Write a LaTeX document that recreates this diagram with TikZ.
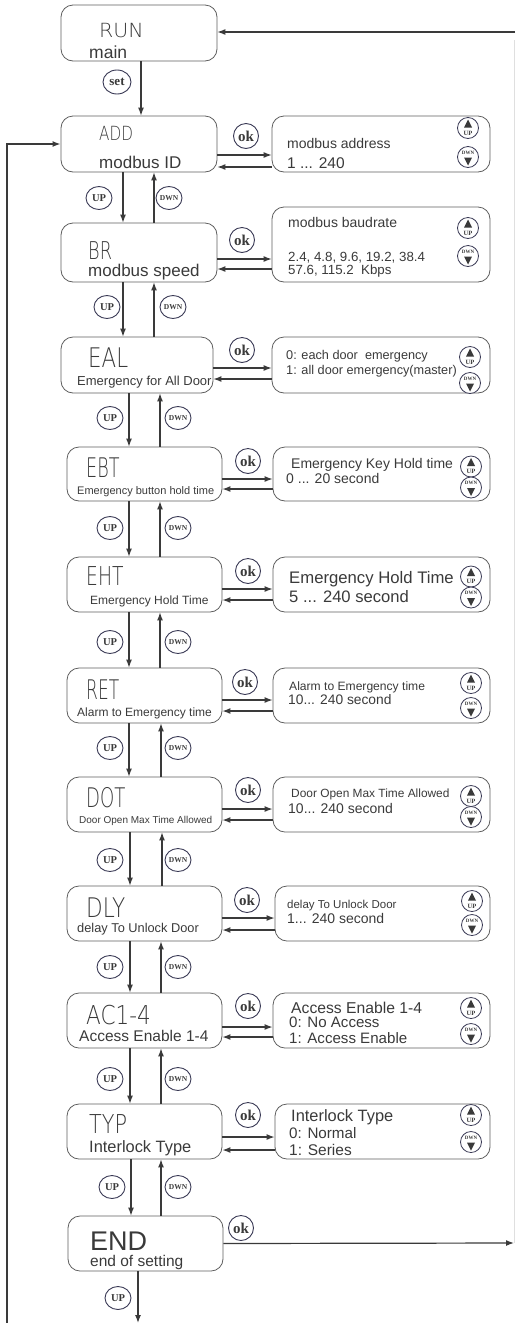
\documentclass[tikz,border=0pt]{standalone}
\usepackage{fontspec}
\setmainfont{Liberation Sans}
\newfontfamily\btnfont{Liberation Serif}
\newfontfamily\segfont{DejaVuSans-ExtraLight.ttf}
\usetikzlibrary{arrows.meta,shapes.geometric}
\definecolor{ink}{HTML}{3A3A3A}
\definecolor{frame}{HTML}{5E5E5E}
\definecolor{btn}{HTML}{3A3A55}
\newcommand\fs[1]{\fontsize{#1}{#1}\selectfont}
\newcommand\segtxt[3]{\scalebox{#1}[1]{\fontsize{#2}{#2}\segfont #3}}
\begin{document}
\begin{tikzpicture}[x=1pt,y=-1pt,
  box/.style={draw=frame, line width=0.8pt, rounded corners=12pt, inner sep=0pt},
  bx/.style 2 args={box, minimum width=#1pt, minimum height=#2pt},
  txt/.style={anchor=base west, inner sep=0pt, text=ink},
  arr/.style={draw=ink, line width=1.2pt, -{Latex[length=8pt,width=6pt]}},
  okb/.style={circle, draw=btn, line width=0.9pt, fill=white, minimum size=25pt, inner sep=0pt, font=\btnfont\bfseries\fs{15}, text=ink},
  setb/.style={ellipse, draw=btn, line width=0.9pt, fill=white, minimum width=28pt, minimum height=24pt, inner sep=0pt, font=\btnfont\bfseries\fs{13}, text=ink},
  upb/.style={ellipse, draw=btn, line width=0.9pt, fill=white, minimum width=26pt, minimum height=23pt, inner sep=0pt, font=\btnfont\bfseries\fs{10.5}, text=ink},
  dnb/.style={upb, font=\btnfont\bfseries\fs{7.5}},
  pup/.style={circle, draw=btn, line width=0.8pt, fill=white, minimum size=21pt, inner sep=0pt,
    path picture={\fill[ink] ([xshift=-4pt,yshift=0.5pt]path picture bounding box.center) -- ++(8pt,0pt) -- ++(-4pt,8pt) -- cycle;
      \node[font=\btnfont\bfseries\fs{6.5}, inner sep=0pt, text=ink] at ([yshift=-5pt]path picture bounding box.center) {UP};}},
  pdn/.style={circle, draw=btn, line width=0.8pt, fill=white, minimum size=21pt, inner sep=0pt,
    path picture={\fill[ink] ([xshift=-4pt,yshift=-0.5pt]path picture bounding box.center) -- ++(8pt,0pt) -- ++(-4pt,-8pt) -- cycle;
      \node[font=\btnfont\bfseries\fs{5}, inner sep=0pt, text=ink] at ([yshift=4.5pt]path picture bounding box.center) {DWN};}}
]
\useasboundingbox (0,0) rectangle (515,1323);

% ---------- left boxes ----------
\node[bx={156}{56}] (run) at (139,33) {};
\node[bx={156}{56}] (add) at (139,144) {};
\node[bx={156}{59}] (br)  at (139,252.5) {};
\node[bx={152}{56}] (eal) at (137,365) {};
\node[bx={155}{54}] (ebt) at (144.5,474) {};
\node[bx={155}{55}] (eht) at (144.5,584.5) {};
\node[bx={155}{55}] (ret) at (144.5,695.5) {};
\node[bx={155}{55}] (dot) at (144.5,804.5) {};
\node[bx={155}{55}] (dly) at (144.5,913.5) {};
\node[bx={155}{55}] (ac)  at (144.5,1020.5) {};
\node[bx={155}{55}] (typ) at (144.5,1131.5) {};
\node[bx={155}{55}] (end) at (145.5,1243.5) {};

% ---------- right panels ----------
\node[bx={218}{56}] (padd) at (381,144) {};
\node[bx={218}{75}] (pbr)  at (381,244.5) {};
\node[bx={218}{56}] (peal) at (381,365) {};
\node[bx={217}{54}] (pebt) at (381.5,474) {};
\node[bx={217}{55}] (peht) at (381.5,584.5) {};
\node[bx={217}{55}] (pret) at (381.5,695.5) {};
\node[bx={217}{55}] (pdot) at (381.5,804.5) {};
\node[bx={215}{55}] (pdly) at (382.5,913.5) {};
\node[bx={217}{55}] (pac)  at (381.5,1020.5) {};
\node[bx={215}{55}] (ptyp) at (382.5,1131.5) {};

% ---------- box texts ----------
\node[txt] (t-run) at (99,37) {\segtxt{1.05}{19.5}{RUN}};
\node[txt] (t-main) at (89,58) {\fs{17.5}main};
\node[txt] (t-add) at (99,140) {\segtxt{0.78}{19.5}{ADD}};
\node[txt] (t-mid) at (99,168) {\fs{17}modbus ID};
\node[txt] (t-br) at (88,259) {\segtxt{0.72}{24.5}{BR}};
\node[txt] (t-ms) at (88,276) {\fs{17}modbus speed};
\node[txt] (t-eal) at (88,367) {\segtxt{0.79}{27}{EAL}};
\node[txt] (t-efa) at (77,385) {\fs{13}Emergency for All Door};
\node[txt] (t-ebt) at (86,477) {\segtxt{0.65}{27}{EBT}};
\node[txt] (t-ebh) at (77,494) {\fs{11}Emergency button hold time};
\node[txt] (t-eht) at (86,585) {\segtxt{0.72}{26}{EHT}};
\node[txt] (t-eh) at (90,604) {\fs{12}Emergency Hold Time};
\node[txt] (t-ret) at (86,699) {\segtxt{0.63}{27}{RET}};
\node[txt] (t-ate) at (77,716) {\fs{12}Alarm to Emergency time};
\node[txt] (t-dot) at (86,807) {\segtxt{0.67}{27}{DOT}};
\node[txt] (t-dom) at (79,823) {\fs{10}Door Open Max Time Allowed};
\node[txt] (t-dly) at (86,917) {\segtxt{0.8}{27}{DLY}};
\node[txt] (t-dtu) at (77,932) {\fs{12.8}delay To Unlock Door};
\node[txt] (t-ac) at (86,1024) {\segtxt{0.83}{26}{AC1-4}};
\node[txt] (t-ae) at (79,1041) {\fs{15.5}Access Enable 1-4};
\node[txt] (t-typ) at (89,1133) {\segtxt{0.8}{26}{TYP}};
\node[txt] (t-it) at (89,1152) {\fs{16.4}Interlock Type};
\node[txt] (t-end) at (90,1250) {\fs{27}END};
\node[txt] (t-eos) at (90,1266) {\fs{15.5}end of setting};

% ---------- panel texts ----------
\node[txt] at (287,148) {\fs{14}modbus address};
\node[txt] at (287,168) {\fs{15.5}1 ... 240};
\node[txt] at (288,227) {\fs{14}modbus baudrate};
\node[txt] at (288,261) {\fs{13.3}2.4, 4.8, 9.6, 19.2, 38.4};
\node[txt] at (288,274) {\fs{13.3}57.6, 115.2\ \ Kbps};
\node[txt] at (286,359) {\fs{12.7}0: each door\ \ emergency};
\node[txt] at (286,374) {\fs{12.7}1: all door emergency(master)};
\node[txt] at (291,468) {\fs{14}Emergency Key Hold time};
\node[txt] at (286,483) {\fs{14}0 ... 20 second};
\node[txt] at (289,583) {\fs{16.7}Emergency Hold Time};
\node[txt] at (289,602) {\fs{16.6}5 ... 240 second};
\node[txt] at (289,690) {\fs{12.1}Alarm to Emergency time};
\node[txt] at (288,704) {\fs{13.8}10... 240 second};
\node[txt] at (291,797) {\fs{11.9}Door Open Max Time Allowed};
\node[txt] at (288,813) {\fs{14}10... 240 second};
\node[txt] at (287,908) {\fs{11.5}delay To Unlock Door};
\node[txt] at (287,923) {\fs{14}1... 240 second};
\node[txt] at (291,1013) {\fs{15.7}Access Enable 1-4};
\node[txt] at (289,1027) {\fs{15.1}0: No Access};
\node[txt] at (289,1043) {\fs{15.1}1: Access Enable};
\node[txt] at (291,1121) {\fs{16.4}Interlock Type};
\node[txt] at (289,1138) {\fs{15.2}0: Normal};
\node[txt] at (289,1155) {\fs{15.5}1: Series};

% ---------- panel up/down buttons ----------
\node[pup] (padd-u) at (468,128) {}; \node[pdn] (padd-d) at (468,157) {};
\node[pup] (pbr-u)  at (468,228) {}; \node[pdn] (pbr-d)  at (468,256) {};
\node[pup] (peal-u) at (470,357) {}; \node[pdn] (peal-d) at (470,383) {};
\node[pup] (pebt-u) at (471,466.5) {}; \node[pdn] (pebt-d) at (471,487.5) {};
\node[pup] (peht-u) at (471,576.5) {}; \node[pdn] (peht-d) at (471,597.5) {};
\node[pup] (pret-u) at (471,683) {}; \node[pdn] (pret-d) at (471,708) {};
\node[pup] (pdot-u) at (471,796) {}; \node[pdn] (pdot-d) at (471,817) {};
\node[pup] (pdly-u) at (472,901) {}; \node[pdn] (pdly-d) at (472,925) {};
\node[pup] (pac-u)  at (471,1008) {}; \node[pdn] (pac-d)  at (471,1034) {};
\node[pup] (ptyp-u) at (471,1115) {}; \node[pdn] (ptyp-d) at (471,1142) {};

% ---------- vertical connectors ----------
\draw[arr] (run.south -| 141,0) -- (add.north -| 141,0);
\node[setb] (set) at (117,82) {set};

\draw[arr] (add.south -| 123,0) -- (br.north -| 123,0);
\draw[arr] (br.north -| 154,0) -- (add.south -| 154,0);
\node[upb] at (99,198) {UP}; \node[dnb] at (169,198) {DWN};

\draw[arr] (br.south -| 123,0) -- (eal.north -| 123,0);
\draw[arr] (eal.north -| 154,0) -- (br.south -| 154,0);
\node[upb] at (107,307) {UP}; \node[dnb] at (173,307) {DWN};

\draw[arr] (eal.south -| 129,0) -- (ebt.north -| 129,0);
\draw[arr] (ebt.north -| 160,0) -- (eal.south -| 160,0);
\node[upb] at (110,418) {UP}; \node[dnb] at (178,418) {DWN};

\draw[arr] (ebt.south -| 129,0) -- (eht.north -| 129,0);
\draw[arr] (eht.north -| 160,0) -- (ebt.south -| 160,0);
\node[upb] at (110,528) {UP}; \node[dnb] at (178,528) {DWN};

\draw[arr] (eht.south -| 129,0) -- (ret.north -| 129,0);
\draw[arr] (ret.north -| 160,0) -- (eht.south -| 160,0);
\node[upb] at (110,642) {UP}; \node[dnb] at (178,642) {DWN};

\draw[arr] (ret.south -| 129,0) -- (dot.north -| 129,0);
\draw[arr] (dot.north -| 161,0) -- (ret.south -| 161,0);
\node[upb] at (110,748) {UP}; \node[dnb] at (178,748) {DWN};

\draw[arr] (dot.south -| 130,0) -- (dly.north -| 130,0);
\draw[arr] (dly.north -| 162,0) -- (dot.south -| 162,0);
\node[upb] at (110,860) {UP}; \node[dnb] at (178,860) {DWN};

\draw[arr] (dly.south -| 130,0) -- (ac.north -| 130,0);
\draw[arr] (ac.north -| 161,0) -- (dly.south -| 161,0);
\node[upb] at (110,967) {UP}; \node[dnb] at (178,967) {DWN};

\draw[arr] (ac.south -| 130,0) -- (typ.north -| 130,0);
\draw[arr] (typ.north -| 161,0) -- (ac.south -| 161,0);
\node[upb] at (110,1079) {UP}; \node[dnb] at (178,1079) {DWN};

\draw[arr] (typ.south -| 131,0) -- (end.north -| 131,0);
\draw[arr] (end.north -| 161,0) -- (typ.south -| 161,0);
\node[upb] at (112,1187) {UP}; \node[dnb] at (178,1187) {DWN};

\coordinate (bot) at (138,1323);
\draw[arr] (end.south -| bot) -- (bot);
\node[upb] at (118,1298) {UP};

% ---------- horizontal ok connectors ----------
\draw[arr] (add.east |- 0,155) -- (padd.west |- 0,155);
\draw[arr] (padd.west |- 0,167) -- (add.east |- 0,167);
\node[okb] at (246,136) {ok};
\draw[arr] (br.east |- 0,259) -- (pbr.west |- 0,259);
\draw[arr] (pbr.west |- 0,269) -- (br.east |- 0,269);
\node[okb] at (242,240) {ok};
\draw[arr] (eal.east |- 0,368) -- (peal.west |- 0,368);
\draw[arr] (peal.west |- 0,379) -- (eal.east |- 0,379);
\node[okb] at (242,350) {ok};
\draw[arr] (ebt.east |- 0,479) -- (pebt.west |- 0,479);
\draw[arr] (pebt.west |- 0,489) -- (ebt.east |- 0,489);
\node[okb] at (248,461) {ok};
\draw[arr] (eht.east |- 0,589) -- (peht.west |- 0,589);
\draw[arr] (peht.west |- 0,600) -- (eht.east |- 0,600);
\node[okb] at (248,571) {ok};
\draw[arr] (ret.east |- 0,700) -- (pret.west |- 0,700);
\draw[arr] (pret.west |- 0,711) -- (ret.east |- 0,711);
\node[okb] at (245,682) {ok};
\draw[arr] (dot.east |- 0,809) -- (pdot.west |- 0,809);
\draw[arr] (pdot.west |- 0,820) -- (dot.east |- 0,820);
\node[okb] at (248,790) {ok};
\draw[arr] (dly.east |- 0,918) -- (pdly.west |- 0,918);
\draw[arr] (pdly.west |- 0,930) -- (dly.east |- 0,930);
\node[okb] at (247,900) {ok};
\draw[arr] (ac.east |- 0,1027) -- (pac.west |- 0,1027);
\draw[arr] (pac.west |- 0,1037) -- (ac.east |- 0,1037);
\node[okb] at (248,1006) {ok};
\draw[arr] (typ.east |- 0,1137) -- (ptyp.west |- 0,1137);
\draw[arr] (ptyp.west |- 0,1150) -- (typ.east |- 0,1150);
\node[okb] at (248,1115) {ok};

% ---------- return loops ----------
\coordinate (rtop) at (515,32);
\coordinate (rbot) at (514,1243);
\draw[gray!25, line width=0.8pt] (rbot) -- (514,40);
\draw[arr] (end.east) -- (rbot);
\node[okb] at (241,1228) {ok};
\draw[arr] (rtop) -- (run.east |- rtop);
\coordinate (lb) at (7,1323);
\draw[arr, line width=1.6pt] (lb) |- (add.west);
\end{tikzpicture}
\end{document}
